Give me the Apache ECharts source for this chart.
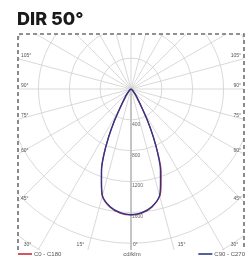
<!DOCTYPE html>
<html>
<head>
<meta charset="utf-8">
<script src="https://cdn.jsdelivr.net/npm/echarts@6/dist/echarts.min.js"></script>
<style>
html, body { margin: 0; padding: 0; background: #fff; }
#chart { width: 252px; height: 257px; }
</style>
</head>
<body>
<div id="chart"></div>
<script>
// angles (gamma, deg from nadir) and intensities in cd/klm
var gammas = [0, 5, 10, 15, 17.5, 20, 22.5, 25, 27.5, 30, 35, 40, 45, 50, 60, 70, 80, 90];
var c0 = [1632, 1614, 1556, 1440, 1295, 1140, 920, 685, 468, 290, 140, 75, 42, 25, 10, 5, 2, 0];
var c180 = [1632, 1614, 1558, 1438, 1278, 1122, 925, 695, 472, 290, 140, 75, 42, 25, 10, 5, 2, 0];
var c90 = [1630, 1610, 1550, 1430, 1270, 1115, 910, 680, 465, 287, 138, 75, 42, 25, 10, 5, 2, 0];
var c270 = [1630, 1610, 1550, 1430, 1270, 1115, 910, 680, 465, 287, 138, 75, 42, 25, 10, 5, 2, 0];
var angleLabels = [0, 15, 30, 45, 60, 75, 90, 105, 120, 135, 150, 165, 180];
var radiusLabels = [400, 800, 1200, 1600];

var cx = 131, cy = 89;
var frame = {l: 18, t: 34, r: 244, b: 250};

// left half uses value = gamma, right half 360 - gamma
function plane(left, right) {
	var d = [];
	for (var i = gammas.length - 1; i >= 0; i--) {
		d.push([left[i], gammas[i]]);
	}
	for (var i = 0; i < gammas.length; i++) {
		d.push([right[i], 360 - gammas[i]]);
	}
	return d;
}

var myChart = echarts.init(document.getElementById('chart'));

var option = {
	animation: false,
	polar: {center: [cx, cy], radius: 216},
	angleAxis: {
		type: 'value', min: 0, max: 360, interval: 15, startAngle: 270, clockwise: true,
		axisLine: {show: false}, axisTick: {show: false}, axisLabel: {show: false},
		splitLine: {show: true, lineStyle: {color: '#cfcfcf', width: 0.8}}
	},
	radiusAxis: {
		type: 'value', min: 0, max: 2800, interval: 400,
		axisLine: {show: true, lineStyle: {color: '#c4c4c4', width: 2}},
		axisTick: {show: false},
		axisLabel: {
			show: true, fontSize: 5, color: '#666', margin: -2, align: 'left', verticalAlign: 'top',
			fontFamily: 'Arial', padding: [2, 0, 0, 3],
			formatter: function(v){ return radiusLabels.indexOf(v) >= 0 ? String(v) : ''; }
		},
		splitLine: {show: true, lineStyle: {color: '#cfcfcf', width: 0.8}}
	},
	legend: [
		{data: ['C0 - C180'], left: 18, bottom: 0, z: 200, icon: 'rect', itemWidth: 14, itemHeight: 1.5, itemGap: 2,
			textStyle: {fontSize: 6, color: '#555', padding: [0, 0, 0, -3]}, padding: 0},
		{data: ['C90 - C270'], right: 7, bottom: 0, z: 200, icon: 'rect', itemWidth: 14, itemHeight: 1.5, itemGap: 2,
			textStyle: {fontSize: 6, color: '#555', padding: [0, 0, 0, -3]}, padding: 0}
	],
	series: [
		{name: 'C0 - C180', type: 'line', coordinateSystem: 'polar', data: plane(c180, c0), smooth: 0.3,
			showSymbol: false, lineStyle: {color: '#d43a3a', width: 1.3}, itemStyle: {color: '#c81e2a'}, z: 3},
		{name: 'C90 - C270', type: 'line', coordinateSystem: 'polar', data: plane(c270, c90), smooth: 0.3,
			showSymbol: false, lineStyle: {color: '#27358f', width: 1.3}, itemStyle: {color: '#1e2a80'}, z: 4}
	]
};
myChart.setOption(option);

// labels where the radial lines meet the frame
function angleLabelItems() {
	var items = [];
	var labelStyle = {fontSize: 5, fill: '#555', fontFamily: 'Arial'};
	angleLabels.forEach(function(g) {
		[1, -1].forEach(function(side) {
			if (g == 0 && side == 1) return;
			var v = side == 1 ? g : 360 - g;
			var p = myChart.convertToPixel({polarIndex: 0}, [1000, v]);
			var dx = p[0] - cx, dy = p[1] - cy;
			var ts = [];
			if (dx < 0) ts.push((frame.l - cx) / dx);
			if (dx > 0) ts.push((frame.r - cx) / dx);
			if (dy < 0) ts.push((frame.t - cy) / dy);
			if (dy > 0) ts.push((frame.b - cy) / dy);
			var t = Math.min.apply(null, ts);
			var hx = cx + dx * t, hy = cy + dy * t;
			if (Math.abs(hy - frame.t) < 0.5) return;
			var st = Object.assign({text: g + '°'}, labelStyle);
			if (Math.abs(hy - frame.b) < 0.5) {
				var off = 1 + 10 * Math.tan(g * Math.PI / 180);
				st.x = g == 0 ? hx + 2 : hx - side * off;
				st.y = frame.b - 3;
				st.align = (g == 0 || side == -1) ? 'left' : 'right';
				st.verticalAlign = 'bottom';
			} else {
				st.x = side == 1 ? frame.l + 3 : frame.r - 3;
				st.y = hy - 1;
				st.align = side == 1 ? 'left' : 'right';
				st.verticalAlign = 'bottom';
			}
			items.push({type: 'text', z: 120, style: st});
		});
	});
	return items;
}

var maskStyle = {fill: '#fff'};
var dashStyle = {stroke: '#6e6e6e', lineWidth: 1.6, lineDash: [4, 3]};
var graphics = [
	{type: 'rect', z: 100, shape: {x: 0, y: 0, width: 252, height: frame.t}, style: maskStyle},
	{type: 'rect', z: 100, shape: {x: 0, y: 0, width: frame.l, height: 257}, style: maskStyle},
	{type: 'rect', z: 100, shape: {x: frame.r, y: 0, width: 252 - frame.r, height: 257}, style: maskStyle},
	{type: 'rect', z: 100, shape: {x: 0, y: frame.b, width: 252, height: 257 - frame.b}, style: maskStyle},
	{type: 'polyline', z: 110, shape: {points: [[frame.l, frame.b], [frame.l, frame.t], [frame.r, frame.t], [frame.r, frame.b]]}, style: dashStyle},
	{type: 'text', z: 120, style: {text: 'DIR 50°', x: 17, y: 11, fontSize: 18, fontWeight: 800, fontFamily: 'Inter', fill: '#1a1a1a'}},
	{type: 'text', z: 120, style: {text: 'cd/klm', x: 132, y: 254, fontSize: 6, fill: '#555', align: 'center', verticalAlign: 'middle', fontFamily: 'Arial'}}
];
myChart.setOption({graphic: graphics.concat(angleLabelItems())});
</script>
</body>
</html>
